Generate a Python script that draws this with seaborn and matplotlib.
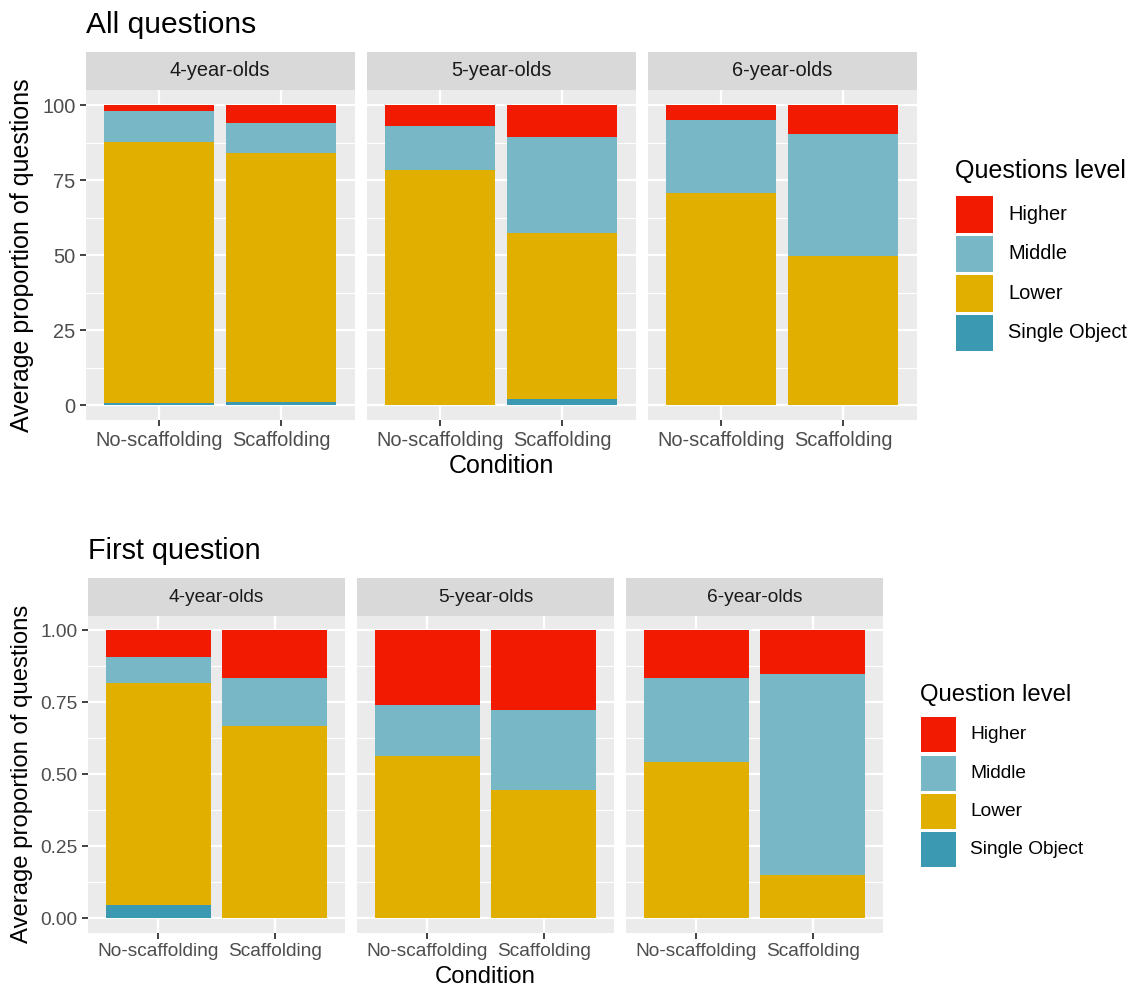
import numpy as np
import pandas as pd
import matplotlib
matplotlib.use("Agg")
import matplotlib.pyplot as plt
from matplotlib.patches import Rectangle
from matplotlib.ticker import FixedLocator
import seaborn as sns

# ---------------------------------------------------------------- data
conditions = ["No-scaffolding", "Scaffolding"]
ages = ["4-year-olds", "5-year-olds", "6-year-olds"]
levels = ["Single Object", "Lower", "Middle", "Higher"]          # stacking order, bottom -> top
legend_order = ["Higher", "Middle", "Lower", "Single Object"]
level_colors = {"Higher": "#F21A00", "Middle": "#78B7C5",
                "Lower": "#E1AF00", "Single Object": "#3B9AB2"}

# All questions (percent); order: 4y NoScaf, 4y Scaf, 5y NoScaf, 5y Scaf, 6y NoScaf, 6y Scaf
all_single = [0.8, 1.0, 0.0, 2.0, 0.0, 0.0]
all_lower = [86.8, 83.1, 78.3, 55.3, 70.7, 49.8]
all_middle = [10.3, 10.0, 14.7, 32.0, 24.3, 40.4]
all_higher = [2.1, 5.9, 7.0, 10.7, 5.0, 9.8]

# First question (proportion); same order
first_single = [0.045, 0.0, 0.0, 0.0, 0.0, 0.0]
first_lower = [0.773, 0.666, 0.565, 0.444, 0.542, 0.150]
first_middle = [0.091, 0.167, 0.174, 0.278, 0.291, 0.700]
first_higher = [0.091, 0.167, 0.261, 0.278, 0.167, 0.150]

all_ticks = [0, 25, 50, 75, 100]
all_tick_labels = ["0", "25", "50", "75", "100"]
first_ticks = [0, 0.25, 0.5, 0.75, 1.0]
first_tick_labels = ["0.00", "0.25", "0.50", "0.75", "1.00"]


def long_table(single, lower, middle, higher):
    rows = []
    series = {"Single Object": single, "Lower": lower, "Middle": middle, "Higher": higher}
    i = 0
    for age in ages:
        for cond in conditions:
            for lev in levels:
                rows.append({"Age": age, "Condition": cond, "Level": lev,
                             "Value": series[lev][i]})
            i += 1
    df = pd.DataFrame(rows)
    df["Level"] = pd.Categorical(df["Level"], categories=levels, ordered=True)
    df = df.sort_values(["Age", "Condition", "Level"])
    df["Top"] = df.groupby(["Age", "Condition"], observed=True)["Value"].cumsum()
    return df


df_all = long_table(all_single, all_lower, all_middle, all_higher)
df_first = long_table(first_single, first_lower, first_middle, first_higher)

# ---------------------------------------------------------------- style
sns.set_theme(style="darkgrid")
plt.rcParams["font.family"] = ["Liberation Sans", "DejaVu Sans"]

W, H = 1130, 990
fig = plt.figure(figsize=(W / 100, H / 100), dpi=100)
fig.patch.set_facecolor("white")


def fx(px):
    return px / W


def fy(py):
    return 1 - py / H


def draw_block(df, lefts, width, strip_top, panel_top, panel_bottom, ylim,
               ticks, tick_labels, scale, title, title_xy, ylabel_xy, xlabel_xy,
               legend_title, legend_xy, key_x, key_tops, key_size, label_x):
    base = 11 * scale          # ggplot base size, in matplotlib points
    small = 8.8 * scale
    big = 13.2 * scale
    minor = [(a + b) / 2 for a, b in zip(ticks[:-1], ticks[1:])]

    for k, age in enumerate(ages):
        left = lefts[k]
        ax = fig.add_axes([fx(left), fy(panel_bottom), width / W,
                           (panel_bottom - panel_top) / H])
        sub = df[df["Age"] == age]
        # cumulative tops drawn from the top level down so each segment shows
        for lev in levels[::-1]:
            d = sub[sub["Level"] == lev]
            sns.barplot(data=d, x="Condition", y="Top", order=conditions,
                        color=level_colors[lev], saturation=1, width=0.9,
                        errorbar=None, linewidth=0, ax=ax)
        ax.set_facecolor("#EBEBEB")
        ax.set_xlim(-0.6, 1.6)
        ax.set_ylim(*ylim)
        ax.set_yticks(ticks)
        ax.set_yticklabels(tick_labels)
        ax.yaxis.set_minor_locator(FixedLocator(minor))
        ax.set_xlabel("")
        ax.set_ylabel("")
        for s in ax.spines.values():
            s.set_visible(False)
        ax.grid(False)
        ax.set_axisbelow(True)
        ax.grid(which="major", axis="both", color="white", linewidth=1.6)
        ax.grid(which="minor", axis="y", color="white", linewidth=0.8)
        ax.tick_params(axis="both", which="major", length=4.4, width=1.3,
                       color="#333333", labelcolor="#4D4D4D", labelsize=small,
                       pad=3.2, bottom=True, left=True)
        ax.tick_params(axis="both", which="minor", length=0)
        if k > 0:
            ax.tick_params(axis="y", which="both", left=False, labelleft=False)

        sax = fig.add_axes([fx(left), fy(panel_top), width / W,
                            (panel_top - strip_top) / H])
        sax.set_facecolor("#D9D9D9")
        sax.grid(False)
        sax.set_xticks([])
        sax.set_yticks([])
        for s in sax.spines.values():
            s.set_visible(False)
        sax.text(0.5, 0.5, age, ha="center", va="center", color="#1A1A1A",
                 fontsize=small, transform=sax.transAxes)

    fig.text(fx(title_xy[0]), fy(title_xy[1]), title, fontsize=big,
             va="baseline", ha="left", color="black")
    fig.text(fx(ylabel_xy[0]), fy(ylabel_xy[1]), "Average proportion of questions",
             fontsize=base, rotation=90, ha="center", va="center", color="black")
    fig.text(fx(xlabel_xy[0]), fy(xlabel_xy[1]), "Condition", fontsize=base,
             ha="center", va="center", color="black")

    fig.text(fx(legend_xy[0]), fy(legend_xy[1]), legend_title, fontsize=base,
             ha="left", va="baseline", color="black")
    for lev, top in zip(legend_order, key_tops):
        fig.patches.append(Rectangle((fx(key_x), fy(top + key_size)),
                                     key_size / W, key_size / H,
                                     transform=fig.transFigure,
                                     facecolor=level_colors[lev], edgecolor="none"))
        fig.text(fx(label_x), fy(top + key_size / 2), lev, fontsize=small,
                 ha="left", va="center", color="black")


draw_block(df_all, lefts=[86, 367, 648], width=268.5, strip_top=52, panel_top=90,
           panel_bottom=420, ylim=(-5, 105), ticks=all_ticks,
           tick_labels=all_tick_labels, scale=1.635,
           title="All questions", title_xy=(86, 33), ylabel_xy=(22, 255),
           xlabel_xy=(501, 466), legend_title="Questions level",
           legend_xy=(955, 178), key_x=956, key_tops=[196, 235.5, 275, 314.5],
           key_size=36.5, label_x=1008)

draw_block(df_first, lefts=[88, 357, 626], width=257, strip_top=578, panel_top=616,
           panel_bottom=932.5, ylim=(-0.05, 1.05), ticks=first_ticks,
           tick_labels=first_tick_labels, scale=1.565,
           title="First question", title_xy=(88, 559), ylabel_xy=(22, 774),
           xlabel_xy=(485.5, 977), legend_title="Question level",
           legend_xy=(920, 701), key_x=921, key_tops=[717.3, 755.5, 793.5, 831.7],
           key_size=35, label_x=970)

fig.savefig("out.png", dpi=100, facecolor="white")
